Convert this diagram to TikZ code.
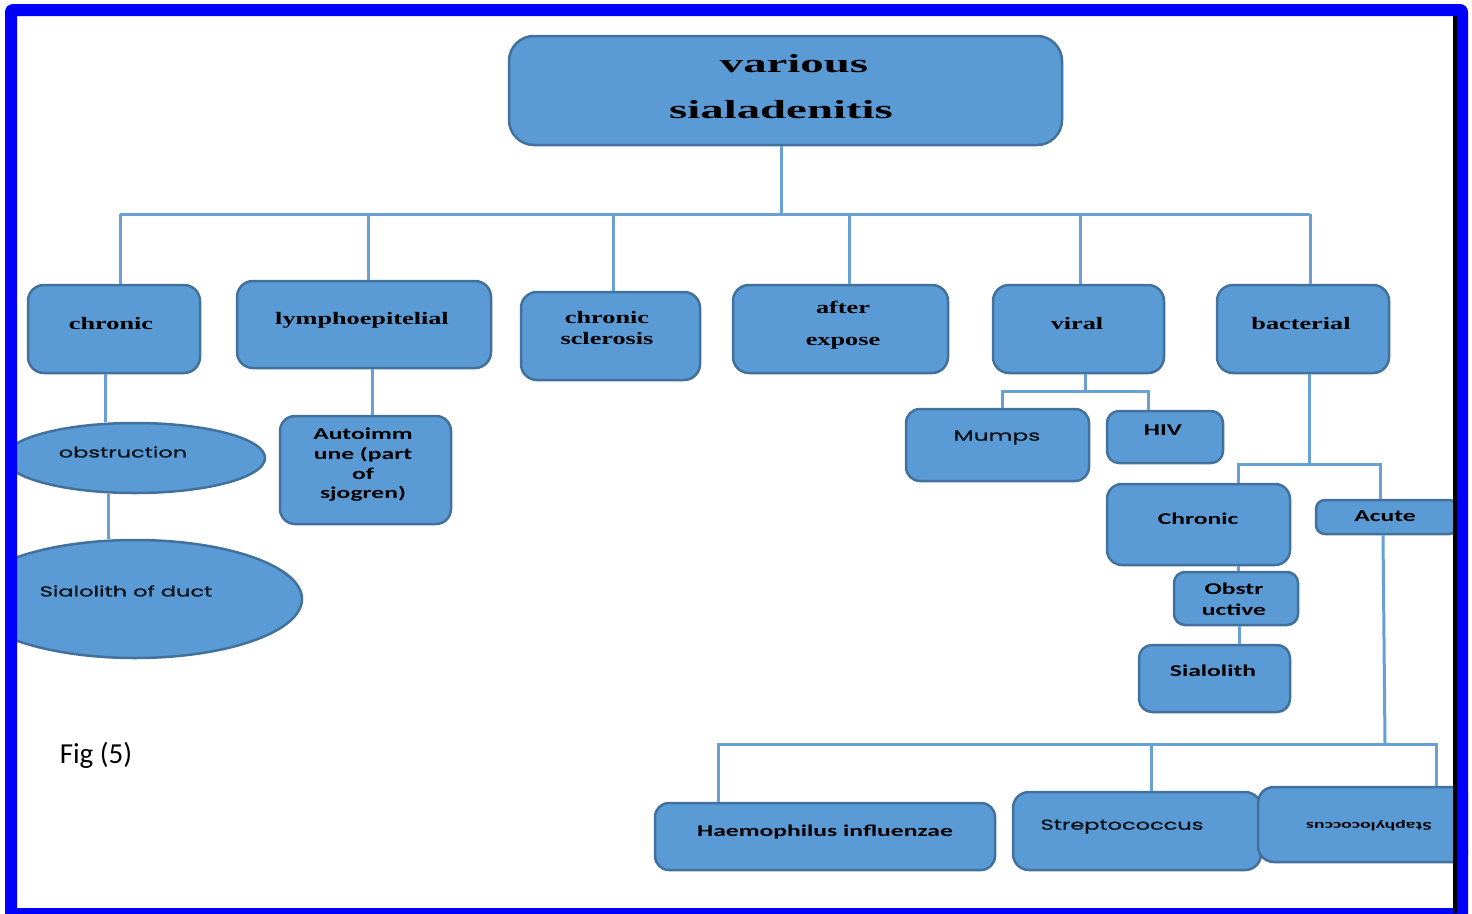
\documentclass[tikz,border=0pt]{standalone}
\usepackage{fontspec}
\usetikzlibrary{shapes.geometric}
% wide faces used for the box labels
\newfontfamily\titlefont[FakeStretch=1.8]{Liberation Serif}
\newfontfamily\serifwide[FakeStretch=1.5]{Liberation Serif}
\newfontfamily\calwide[FakeStretch=1.55]{Carlito}
\newfontfamily\calsmall[FakeStretch=1.65]{Carlito}
\newfontfamily\gothwide[FakeStretch=1.55,FakeBold=0.8]{Poppins}
\newfontfamily\calplain{Carlito}
\definecolor{boxfill}{RGB}{91,155,213}
\definecolor{boxline}{RGB}{65,113,156}
\definecolor{wire}{RGB}{104,160,214}
\definecolor{framebl}{RGB}{0,0,255}
\tikzset{
  box/.style={draw=boxline, fill=boxfill, line width=2.5pt, rounded corners=16pt, inner sep=0pt},
  oval/.style={ellipse, draw=boxline, fill=boxfill, line width=2.5pt, inner sep=0pt},
  conn/.style={draw=wire, line width=3pt},
  lab/.style={text=black, inner sep=0pt, align=center},
  serlab/.style={lab, font=\serifwide\bfseries\fontsize{17.5}{21}\selectfont},
  sanslab/.style={lab, font=\calwide\bfseries\fontsize{16.5}{19.7}\selectfont},
  gothlab/.style={lab, text=black!85!boxline, font=\gothwide\fontsize{14.5}{18}\selectfont},
}
\begin{document}
\begin{tikzpicture}[x=1pt,y=-1pt]
\useasboundingbox (0,0) rectangle (1472,913);
\fill[white] (0,0) rectangle (1472,913);

\begin{scope}
\clip (5,4) rectangle (1468,913);

% ---- root ----
\node[box, rounded corners=25pt, minimum width=553pt, minimum height=109pt] (title) at (785.5,90.5) {};
\node[lab, anchor=base, font=\titlefont\bfseries\fontsize{26}{30}\selectfont] (t-various) at (794,72) {various};
\node[lab, anchor=base, font=\titlefont\bfseries\fontsize{26}{30}\selectfont] (t-sial) at (781,118) {sialadenitis};

% ---- first level ----
\node[box, minimum width=172pt, minimum height=88pt] (chronic) at (114,329) {};
\node[serlab] (t-chronic) at (111,324) {chronic};
\node[box, minimum width=254pt, minimum height=87pt] (lympho) at (364,324.5) {};
\node[serlab] (t-lympho) at (362,320) {lymphoepitelial};
\node[box, minimum width=179pt, minimum height=88pt] (scler) at (610.5,336) {};
\node[serlab] (t-scler) at (607,328) {chronic\\sclerosis};
\node[box, minimum width=215pt, minimum height=88pt] (expose) at (840.5,329) {};
\node[serlab, font=\serifwide\bfseries\fontsize{17.5}{32}\selectfont] (t-expose) at (843,325) {after\\expose};
\node[box, minimum width=171pt, minimum height=88pt] (viral) at (1078.5,329) {};
\node[serlab] (t-viral) at (1077,324) {viral};
\node[box, minimum width=172pt, minimum height=88pt] (bact) at (1303,329) {};
\node[serlab] (t-bact) at (1301,324) {bacterial};

% ---- chronic branch ----
\node[oval, minimum width=260pt, minimum height=70pt] (obst) at (135,458) {};
\node[gothlab] (t-obst) at (123,452) {obstruction};
\node[oval, minimum width=334pt, minimum height=118pt] (duct) at (135,599) {};
\node[gothlab] (t-duct) at (126,591) {Sialolith of duct};

% ---- lymphoepithelial branch ----
\node[box, rounded corners=15pt, minimum width=171pt, minimum height=108pt] (auto) at (365.5,470) {};
\node[sanslab] (t-auto) at (363,465) {Autoimm\\une (part\\of\\sjogren)};

% ---- viral branch ----
\node[box, rounded corners=14pt, minimum width=183pt, minimum height=72pt] (mumps) at (997.5,445) {};
\node[gothlab, font=\gothwide\fontsize{15}{18}\selectfont] (t-mumps) at (997,437.5) {Mumps};
\node[box, rounded corners=12pt, minimum width=116pt, minimum height=52pt] (hiv) at (1165,437) {};
\node[sanslab] (t-hiv) at (1163,430.5) {HIV};

% ---- bacterial branch ----
\node[box, rounded corners=15pt, minimum width=183pt, minimum height=81pt] (chr2) at (1198.5,524.5) {};
\node[sanslab] (t-chr2) at (1198,518.5) {Chronic};
\node[box, rounded corners=9pt, minimum width=142pt, minimum height=34pt] (acute) at (1387,517) {};
\node[sanslab] (t-acute) at (1385,516.5) {Acute};
\node[box, rounded corners=11pt, minimum width=124pt, minimum height=53pt] (obstr) at (1236,598.5) {};
\node[sanslab, font=\calwide\bfseries\fontsize{16.5}{21}\selectfont] (t-obstr) at (1234,599) {Obstr\\uctive};
\node[box, rounded corners=13pt, minimum width=151pt, minimum height=67pt] (sialo) at (1214.5,678.5) {};
\node[sanslab] (t-sialo) at (1213,670.5) {Sialolith};

% ---- organisms ----
\node[box, rounded corners=14pt, minimum width=340pt, minimum height=67pt] (haemo) at (825,836.5) {};
\node[sanslab] (t-haemo) at (825,831.5) {Haemophilus influenzae};
\node[box, rounded corners=16pt, minimum width=248pt, minimum height=78pt] (strep) at (1137,831) {};
\node[gothlab] (t-strep) at (1122,826.5) {Streptococcus};
\node[box, rounded corners=16pt, minimum width=212pt, minimum height=75pt] (staph) at (1364,824.5) {};
\node[lab, rotate=180, font=\calsmall\bfseries\fontsize{12}{14}\selectfont] (t-staph) at (1369,826) {Staphylococcus};

% ---- connectors ----
\coordinate (busL) at (120,214);
\coordinate (busR) at (1310,214);
\draw[conn] ([xshift=-4.5pt]title.south) -- ([xshift=-4.5pt]title.south |- busL);
\draw[conn] (busL) -- (busR);
\draw[conn] (busL) -- ([xshift=6pt]chronic.north);
\draw[conn] ([xshift=4pt]lympho.north |- busL) -- ([xshift=4pt]lympho.north);
\draw[conn] ([xshift=2.5pt]scler.north |- busL) -- ([xshift=2.5pt]scler.north);
\draw[conn] ([xshift=8.5pt]expose.north |- busL) -- ([xshift=8.5pt]expose.north);
\draw[conn] ([xshift=1.5pt]viral.north |- busL) -- ([xshift=1.5pt]viral.north);
\draw[conn] (busR) -- ([xshift=7pt]bact.north);

\draw[conn] ([xshift=-9pt]chronic.south) -- ([xshift=-30pt]obst.north);
\draw[conn] ([xshift=-27pt]obst.south) -- ([xshift=-27pt]duct.north);
\draw[conn] ([xshift=8pt]lympho.south) -- ([xshift=6.5pt]auto.north);

\coordinate (vbus) at (1085,391);
\draw[conn] ([xshift=6.5pt]viral.south) -- (vbus);
\draw[conn] ([xshift=4.5pt]mumps.north) -- ([xshift=4.5pt]mumps.north |- vbus) -- ([xshift=-17pt]hiv.north |- vbus) -- ([xshift=-17pt]hiv.north);

\coordinate (bbus) at (1309,464);
\draw[conn] ([xshift=6pt]bact.south) -- (bbus);
\draw[conn] ([xshift=39.5pt]chr2.north) -- ([xshift=39.5pt]chr2.north |- bbus) -- ([xshift=-7pt]acute.north |- bbus) -- ([xshift=-7pt]acute.north);
\draw[conn] ([xshift=39.5pt]chr2.south) -- ([xshift=2pt]obstr.north);
\draw[conn] ([xshift=3pt]obstr.south) -- ([xshift=24.5pt]sialo.north);

\coordinate (obus) at (1385,744);
\draw[conn] ([xshift=-4pt]acute.south) -- (obus);
\draw[conn] ([xshift=-107pt]haemo.north) -- ([xshift=-107pt]haemo.north |- obus) -- ([xshift=72pt]staph.north |- obus) -- ([xshift=72pt]staph.north);
\draw[conn] ([xshift=14pt]strep.north) -- ([xshift=14pt]strep.north |- obus);

% ---- caption ----
\node[lab, font=\calplain\fontsize{29}{34}\selectfont] (caption) at (96,755) {Fig (5)};
\end{scope}

% ---- page frame ----
\fill[framebl, even odd rule, rounded corners=8pt] (5,4) rectangle (1468,925)
   [sharp corners] (17,16) rectangle (1453,908);
\fill[black] (1452.5,16) rectangle (1457,913);
\end{tikzpicture}
\end{document}
